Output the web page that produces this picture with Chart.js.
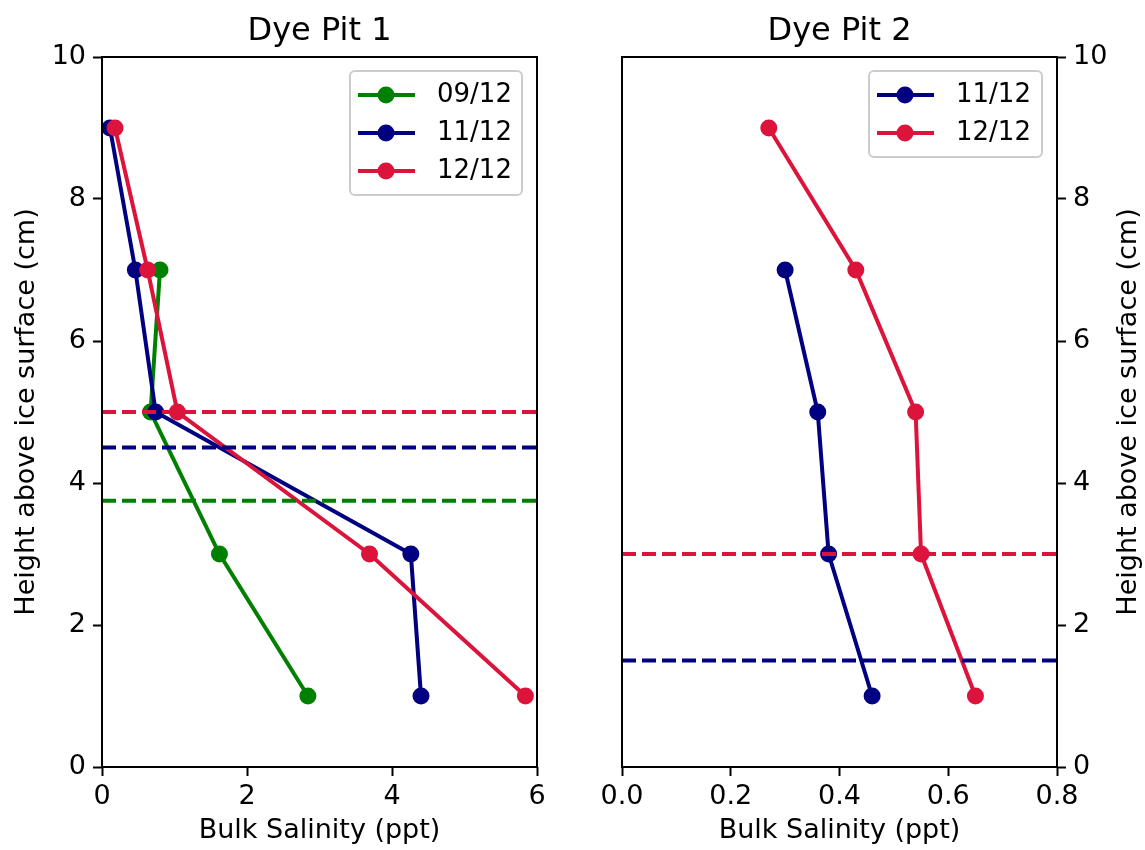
<!DOCTYPE html>
<html>
<head>
<meta charset="utf-8">
<script src="https://cdn.jsdelivr.net/npm/chart.js@4.4.1/dist/chart.umd.min.js"></script>
<style>
  body { margin: 0; background: #fff; }
  #wrap { position: relative; width: 1145px; height: 850px; }
  canvas { position: absolute; top: 0; }
</style>
</head>
<body>
<div id="wrap">
  <canvas id="pit1" width="572" height="850" style="left:0"></canvas>
  <canvas id="pit2" width="573" height="850" style="left:572px"></canvas>
</div>
<script>
// sample heights above the ice surface (cm)
const heights = [9, 7, 5, 3, 1];

// Dye Pit 1, bulk salinity (ppt) per sampling date
const pit1Dates = ["09/12", "11/12", "12/12"];
const pit1Sal0912 = [null, 0.80, 0.67, 1.62, 2.84];
const pit1Sal1112 = [0.11, 0.46, 0.74, 4.26, 4.40];
const pit1Sal1212 = [0.18, 0.63, 1.04, 3.69, 5.84];
const pit1Levels = [3.75, 4.5, 5.0];   // dashed level for each date

// Dye Pit 2
const pit2Dates = ["11/12", "12/12"];
const pit2Sal1112 = [null, 0.30, 0.36, 0.38, 0.46];
const pit2Sal1212 = [0.27, 0.43, 0.54, 0.55, 0.65];
const pit2Levels = [1.5, 3.0];

const xTicks1 = [0, 2, 4, 6];
const xTicks2 = [0, 0.2, 0.4, 0.6, 0.8];
const yTicks = [0, 2, 4, 6, 8, 10];

const colors = { "09/12": "green", "11/12": "navy", "12/12": "crimson" };
const layerOrder = { "09/12": 3, "11/12": 2, "12/12": 1 };

Chart.defaults.font.family = "'DejaVu Sans', sans-serif";
Chart.defaults.font.size = 27;
Chart.defaults.color = "#000";

function profile(label, sal) {
    const pts = [];
    sal.forEach((x, i) => { if (x !== null) pts.push({ x: x, y: heights[i] }); });
    return {
        label: label,
        data: pts,
        showLine: true,
        borderColor: colors[label],
        backgroundColor: colors[label],
        pointBackgroundColor: colors[label],
        borderWidth: 4,
        pointRadius: 8.5,
        pointHoverRadius: 8.5,
        pointBorderWidth: 0,
        order: layerOrder[label]
    };
}

function level(label, y, xmax) {
    return {
        label: label,
        isLevel: true,
        data: [{ x: 0, y: y }, { x: xmax, y: y }],
        showLine: true,
        borderColor: colors[label],
        borderWidth: 4,
        borderDash: [14, 6],
        pointRadius: 0,
        order: 0
    };
}

// box round the plot area
const frame = {
    id: "frame",
    afterDatasetsDraw(chart) {
        const { ctx, chartArea: a } = chart;
        ctx.save();
        ctx.strokeStyle = "#000";
        ctx.lineWidth = 2;
        ctx.strokeRect(a.left, a.top, a.right - a.left, a.bottom - a.top);
        ctx.restore();
    }
};

// legend drawn inside the plot, upper right
const boxLegend = {
    id: "boxLegend",
    afterDraw(chart, args, opts) {
        const { ctx, chartArea: a } = chart;
        const items = chart.data.datasets.filter(d => !d.isLevel)
            .sort((p, q) => q.order - p.order);
        const w = opts.width, rowH = 38;
        const h = items.length * rowH + 10;
        const x0 = a.right - 15 - w, y0 = a.top + 14;
        ctx.save();
        ctx.beginPath();
        ctx.roundRect(x0, y0, w, h, 5);
        ctx.fillStyle = "rgba(255,255,255,0.8)";
        ctx.fill();
        ctx.strokeStyle = "#cccccc";
        ctx.lineWidth = 2;
        ctx.stroke();
        items.forEach((d, i) => {
            const y = y0 + 24 + i * rowH;
            ctx.strokeStyle = d.borderColor;
            ctx.lineWidth = d.borderWidth;
            ctx.beginPath();
            ctx.moveTo(x0 + 8, y);
            ctx.lineTo(x0 + 65, y);
            ctx.stroke();
            ctx.fillStyle = d.borderColor;
            ctx.beginPath();
            ctx.arc(x0 + 36, y, d.pointRadius, 0, 2 * Math.PI);
            ctx.fill();
            ctx.fillStyle = "#000";
            ctx.font = "26px 'DejaVu Sans'";
            ctx.textBaseline = "middle";
            ctx.textAlign = "left";
            ctx.fillText(d.label, x0 + 87, y);
        });
        ctx.restore();
    }
};

// right-hand axis title, reading bottom to top
const sideTitle = {
    id: "sideTitle",
    afterDraw(chart, args, opts) {
        if (!opts.text) return;
        const { ctx, chartArea: a } = chart;
        const s = chart.scales.y;
        ctx.save();
        ctx.translate(s.right - 16, (a.top + a.bottom) / 2);
        ctx.rotate(-Math.PI / 2);
        ctx.fillStyle = "#000";
        ctx.font = "27px 'DejaVu Sans'";
        ctx.textAlign = "center";
        ctx.textBaseline = "middle";
        ctx.fillText(opts.text, 0, 0);
        ctx.restore();
    }
};

const tickGrid = {
    drawOnChartArea: false,
    drawTicks: true,
    tickLength: 9,
    tickWidth: 2,
    tickColor: "#000"
};

function makeChart(id, title, datasets, xmax, xTicks, xFmt, yPos, pad, legendW) {
    const yAxis = {
        type: "linear",
        position: yPos,
        min: 0,
        max: 10,
        afterBuildTicks: s => { s.ticks = yTicks.map(v => ({ value: v })); },
        afterFit: s => { s.width = yPos === "left" ? 102 : 88; },
        grid: tickGrid,
        border: { display: false },
        ticks: { padding: 7 },
        title: {
            display: yPos === "left",
            text: "Height above ice surface (cm)",
            padding: { top: 11, bottom: 0 }
        }
    };
    return new Chart(document.getElementById(id), {
        type: "scatter",
        data: { datasets: datasets },
        options: {
            responsive: false,
            animation: false,
            events: [],
            devicePixelRatio: 1,
            layout: { padding: pad },
            scales: {
                x: {
                    type: "linear",
                    position: "bottom",
                    min: 0,
                    max: xmax,
                    afterBuildTicks: s => { s.ticks = xTicks.map(v => ({ value: v })); },
                    grid: tickGrid,
                    border: { display: false },
                    ticks: { padding: 4.8, maxRotation: 0, callback: xFmt },
                    title: {
                        display: true,
                        text: "Bulk Salinity (ppt)",
                        font: { lineHeight: "26px" },
                        padding: { top: 0, bottom: 6 }
                    }
                },
                y: yAxis
            },
            plugins: {
                legend: { display: false },
                tooltip: { enabled: false },
                title: {
                    display: true,
                    fullSize: false,
                    text: title,
                    font: { size: 32, weight: "normal" },
                    padding: { top: 12, bottom: 6.6 }
                },
                boxLegend: { width: legendW },
                sideTitle: { text: yPos === "right" ? "Height above ice surface (cm)" : "" }
            }
        },
        plugins: [frame, boxLegend, sideTitle]
    });
}

const pit1Series = [pit1Sal0912, pit1Sal1112, pit1Sal1212];
const pit1Sets = pit1Dates.map((d, i) => profile(d, pit1Series[i]))
    .concat(pit1Dates.map((d, i) => level(d, pit1Levels[i], 6)));

const pit2Series = [pit2Sal1112, pit2Sal1212];
const pit2Sets = pit2Dates.map((d, i) => profile(d, pit2Series[i]))
    .concat(pit2Dates.map((d, i) => level(d, pit2Levels[i], 0.8)));

makeChart("pit1", "Dye Pit 1", pit1Sets, 6, xTicks1, v => String(v),
    "left", { left: 0, right: 35, top: 0, bottom: 0 }, 172);
makeChart("pit2", "Dye Pit 2", pit2Sets, 0.8, xTicks2, v => v.toFixed(1),
    "right", { left: 50, right: 0, top: 0, bottom: 0 }, 173);
</script>
</body>
</html>
